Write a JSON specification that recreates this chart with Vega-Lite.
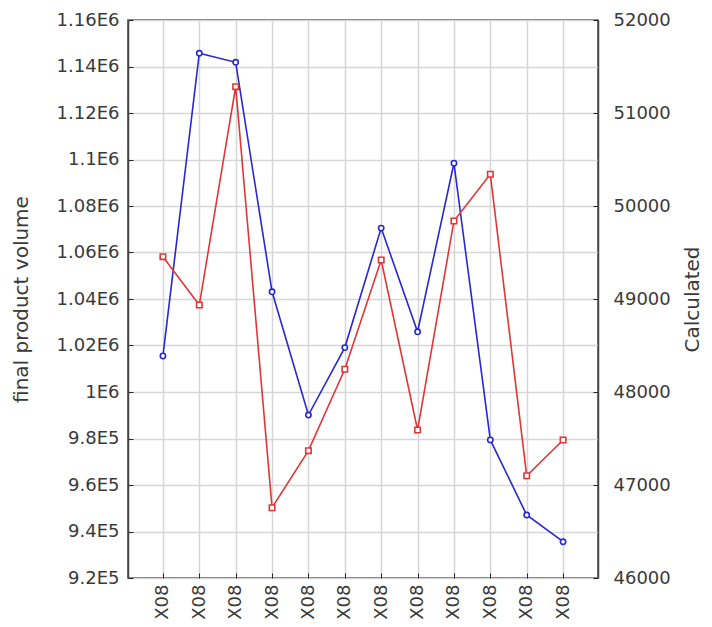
{
  "$schema": "https://vega.github.io/schema/vega-lite/v6.json",
  "autosize": "none",
  "width": 470,
  "height": 558,
  "padding": {"left": 128, "top": 20, "right": 114, "bottom": 49},
  "background": "white",
  "config": {
    "view": {"stroke": "#444444", "strokeWidth": 1.5},
    "axis": {
      "labelFont": "DejaVu Sans",
      "labelFontSize": 18,
      "labelColor": "#3a3a3a",
      "titleFont": "DejaVu Sans",
      "titleFontSize": 20,
      "titleFontWeight": "normal",
      "titleColor": "#3a3a3a",
      "domainColor": "#444444",
      "domainWidth": 1.5,
      "tickColor": "#222222",
      "gridColor": "#d6d6d6",
      "gridWidth": 1.5
    }
  },
  "data": {
    "values": [
      {"i": 1, "volume": 1015500, "calc": 49455},
      {"i": 2, "volume": 1145700, "calc": 48935},
      {"i": 3, "volume": 1141800, "calc": 51283},
      {"i": 4, "volume": 1043100, "calc": 46756},
      {"i": 5, "volume": 990100, "calc": 47369},
      {"i": 6, "volume": 1019100, "calc": 48244},
      {"i": 7, "volume": 1070500, "calc": 49419},
      {"i": 8, "volume": 1025900, "calc": 47591},
      {"i": 9, "volume": 1098400, "calc": 49839},
      {"i": 10, "volume": 979400, "calc": 50341},
      {"i": 11, "volume": 947100, "calc": 47100},
      {"i": 12, "volume": 935600, "calc": 47484}
    ]
  },
  "encoding": {
    "x": {
      "field": "i",
      "type": "ordinal",
      "scale": {"type": "point", "padding": 0.96},
      "axis": {
        "title": null,
        "labelExpr": "'X08'",
        "labelAngle": -90,
        "labelPadding": 11,
        "tickSize": -5,
        "grid": true,
        "domain": false
      }
    }
  },
  "layer": [
    {
      "mark": {
        "type": "line",
        "color": "#2828d2",
        "strokeWidth": 1.6,
        "point": {"filled": false, "fill": "white", "shape": "circle", "size": 28, "strokeWidth": 1.6, "color": "#2828d2"}
      },
      "encoding": {
        "y": {
          "field": "volume",
          "type": "quantitative",
          "scale": {"domain": [920000, 1160000], "nice": false, "zero": false},
          "axis": {
            "title": "final product volume",
            "titlePadding": 25,
            "values": [920000, 940000, 960000, 980000, 1000000, 1020000, 1040000, 1060000, 1080000, 1100000, 1120000, 1140000, 1160000],
            "labelExpr": "datum.value >= 1000000 ? format(datum.value/1000000, '~g') + 'E6' : format(datum.value/100000, '~g') + 'E5'",
            "tickSize": -5,
            "labelPadding": 14,
            "grid": true
          }
        }
      }
    },
    {
      "mark": {
        "type": "line",
        "color": "#e23636",
        "strokeWidth": 1.6,
        "point": {"filled": false, "fill": "white", "shape": "square", "size": 30, "strokeWidth": 1.6, "color": "#e23636"}
      },
      "encoding": {
        "y": {
          "field": "calc",
          "type": "quantitative",
          "scale": {"domain": [46000, 52000], "nice": false, "zero": false},
          "axis": {
            "orient": "right",
            "title": "Calculated",
            "titleAngle": -90,
            "titlePadding": 32,
            "values": [46000, 47000, 48000, 49000, 50000, 51000, 52000],
            "format": "d",
            "tickSize": -5,
            "labelPadding": 20,
            "grid": false
          }
        }
      }
    }
  ],
  "resolve": {"scale": {"y": "independent"}}
}
